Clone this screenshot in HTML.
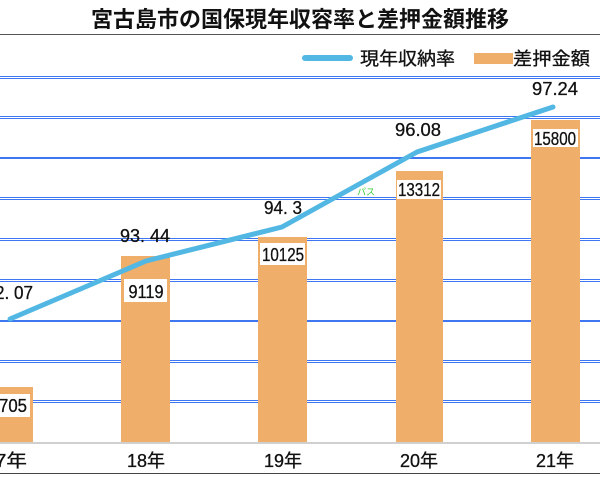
<!DOCTYPE html>
<html><head><meta charset="utf-8"><style>
body{margin:0;background:#fff;}
svg{display:block;font-family:"Liberation Sans","Noto Sans CJK JP",sans-serif;}
</style></head><body>
<svg width="600" height="479" viewBox="0 0 600 479">
<text x="300" y="27" font-size="22" text-anchor="middle" fill="#111" font-weight="bold">宮古島市の国保現年収容率と差押金額推移</text>
<line x1="0" y1="34.5" x2="600" y2="34.5" stroke="#555" stroke-width="1"/>
<line x1="305" y1="58" x2="350" y2="58" stroke="#52b8e3" stroke-width="6" stroke-linecap="round"/>
<text x="360" y="65" font-size="18" fill="#111" stroke="#111" stroke-width="0.3" textLength="95" lengthAdjust="spacingAndGlyphs">現年収納率</text>
<rect x="474" y="53" width="39" height="11" fill="#efae6a"/>
<text x="513" y="65" font-size="18" fill="#111" stroke="#111" stroke-width="0.3" textLength="77" lengthAdjust="spacingAndGlyphs">差押金額</text>
<g stroke="#3f76f2" fill="none" stroke-width="1">
<line x1="0" y1="76.5" x2="600" y2="76.5"/><line x1="0" y1="78.5" x2="600" y2="78.5"/>
<line x1="0" y1="116.5" x2="600" y2="116.5"/><line x1="0" y1="118.5" x2="600" y2="118.5"/>
<line x1="0" y1="158" x2="600" y2="158" stroke-width="2"/>
<line x1="0" y1="197.5" x2="600" y2="197.5"/><line x1="0" y1="199.5" x2="600" y2="199.5"/>
<line x1="0" y1="238.5" x2="600" y2="238.5"/><line x1="0" y1="240.5" x2="600" y2="240.5"/>
<line x1="0" y1="279.5" x2="600" y2="279.5"/><line x1="0" y1="281.5" x2="600" y2="281.5"/>
<line x1="0" y1="321" x2="600" y2="321" stroke-width="2"/>
<line x1="0" y1="360.5" x2="600" y2="360.5"/><line x1="0" y1="362.5" x2="600" y2="362.5"/>
<line x1="0" y1="400.5" x2="600" y2="400.5"/><line x1="0" y1="402.5" x2="600" y2="402.5"/>
</g>
<g fill="#efae6a">
<rect x="0" y="387" width="33" height="55"/>
<rect x="121" y="256" width="49" height="186"/>
<rect x="258" y="237" width="49" height="205"/>
<rect x="396" y="171" width="47" height="271"/>
<rect x="531" y="120" width="49" height="322"/>
</g>
<line x1="0" y1="443" x2="600" y2="443" stroke="#d0d0d0" stroke-width="2"/>
<line x1="0" y1="473.5" x2="600" y2="473.5" stroke="#444" stroke-width="1"/>
<g fill="#fff">
<rect x="0" y="394" width="30" height="23"/>
<rect x="124" y="279" width="43" height="23"/>
<rect x="260" y="243" width="45" height="22"/>
<rect x="397" y="180" width="44" height="19"/>
<rect x="533" y="129" width="45" height="18"/>
</g>
<polyline points="10,319 146,261 282,227 417,152 553,107" fill="none" stroke="#52b8e3" stroke-width="5" stroke-linecap="round" stroke-linejoin="round"/>
<g font-size="18" fill="#111" stroke="#111" stroke-width="0.3" text-anchor="middle">
<text x="13" y="412" textLength="28" lengthAdjust="spacingAndGlyphs">705</text>
<text x="146" y="298" textLength="35" lengthAdjust="spacingAndGlyphs">9119</text>
<text x="283" y="261" textLength="42" lengthAdjust="spacingAndGlyphs">10125</text>
<text x="419" y="196" textLength="42" lengthAdjust="spacingAndGlyphs">13312</text>
<text x="555" y="145" textLength="42" lengthAdjust="spacingAndGlyphs">15800</text>
<text x="14" y="299" textLength="38" lengthAdjust="spacingAndGlyphs">2. 07</text>
<text x="145" y="242" textLength="50" lengthAdjust="spacingAndGlyphs">93. 44</text>
<text x="283" y="214" textLength="38" lengthAdjust="spacingAndGlyphs">94. 3</text>
<text x="418" y="136" textLength="46" lengthAdjust="spacingAndGlyphs">96.08</text>
<text x="555" y="95" textLength="46" lengthAdjust="spacingAndGlyphs">97.24</text>
<text x="11" y="467" textLength="32" lengthAdjust="spacingAndGlyphs">7年</text>
<text x="146" y="467" textLength="38" lengthAdjust="spacingAndGlyphs">18年</text>
<text x="283" y="467" textLength="38" lengthAdjust="spacingAndGlyphs">19年</text>
<text x="419" y="467" textLength="38" lengthAdjust="spacingAndGlyphs">20年</text>
<text x="555" y="467" textLength="38" lengthAdjust="spacingAndGlyphs">21年</text>
</g>
<text x="357" y="195" font-size="9" fill="#3c3">パス</text>
</svg>
</body></html>
